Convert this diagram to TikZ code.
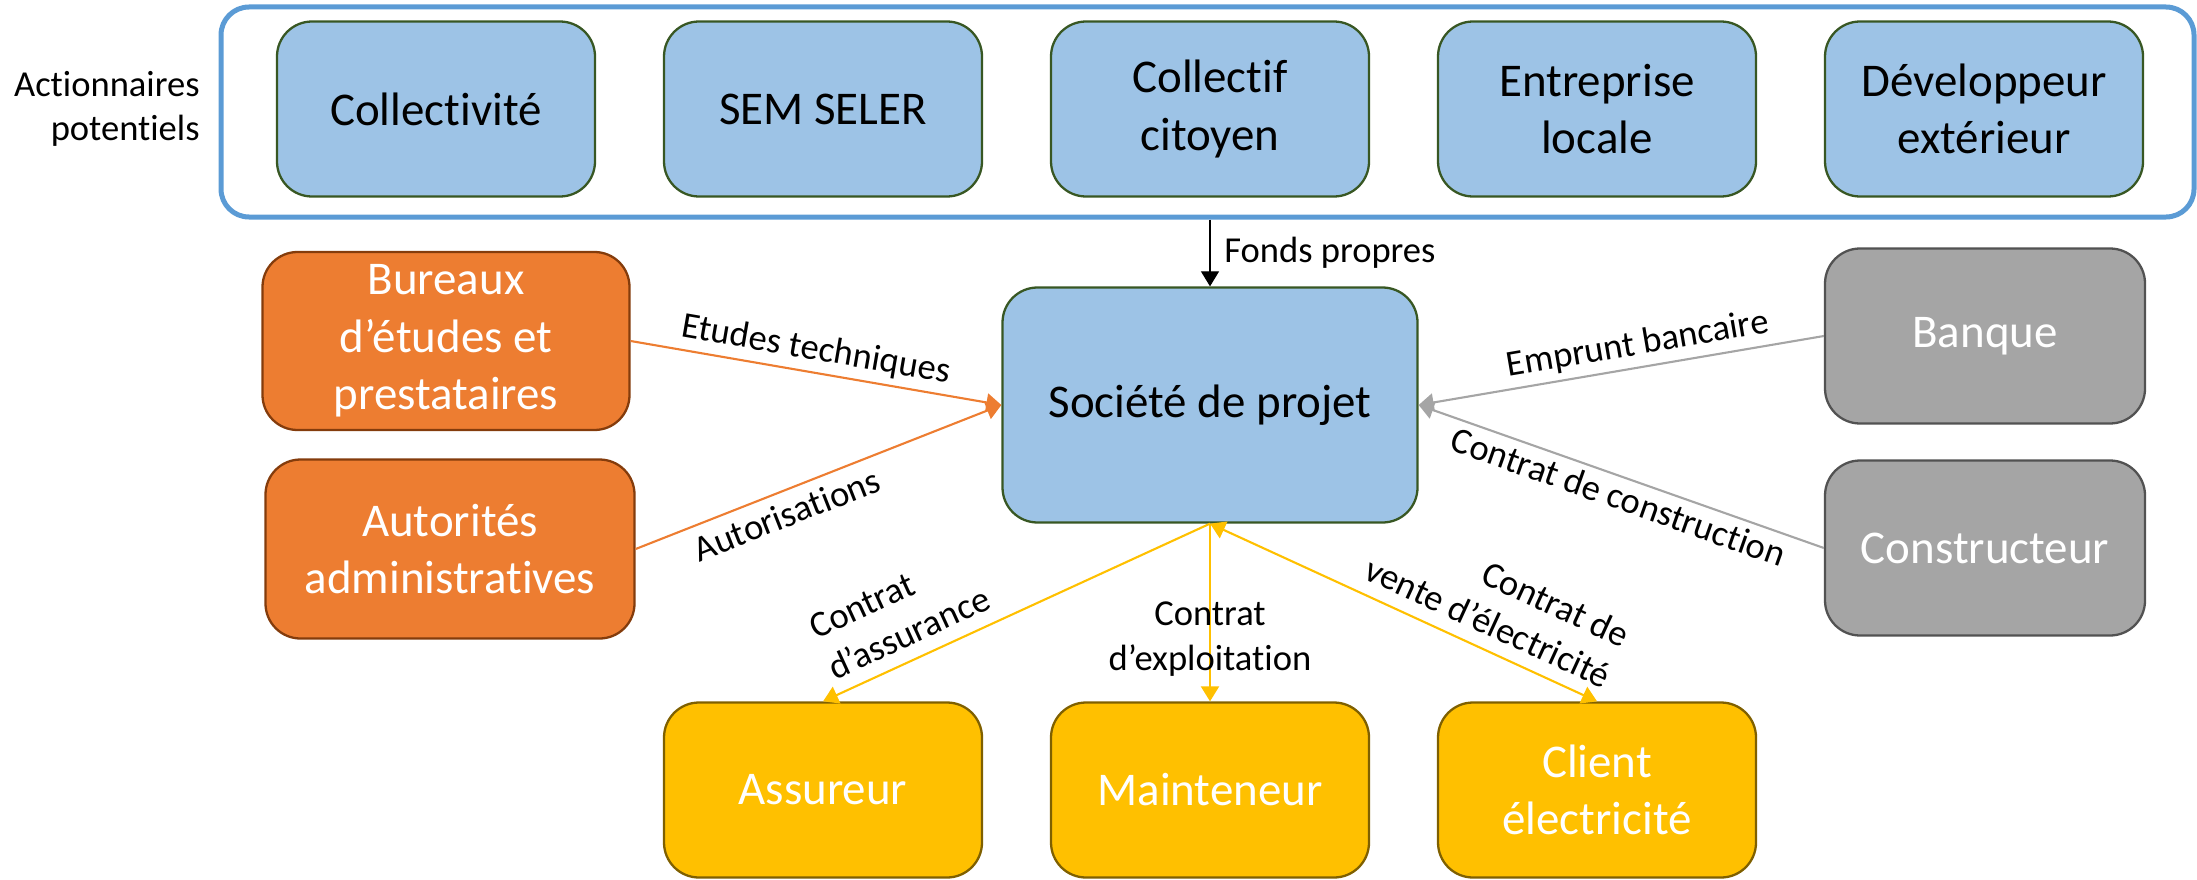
\documentclass[tikz,border=0pt]{standalone}
\usepackage{fontspec}
\setmainfont{Carlito}[Ligatures={NoCommon}]
\usetikzlibrary{arrows.meta, positioning}

\definecolor{shareblue}{HTML}{9DC3E6}
\definecolor{sharedraw}{HTML}{385723}
\definecolor{frameblue}{HTML}{5B9BD5}
\definecolor{studyorange}{HTML}{ED7D31}
\definecolor{studydraw}{HTML}{843C0C}
\definecolor{bankgrey}{HTML}{A5A5A5}
\definecolor{bankdraw}{HTML}{525252}
\definecolor{contractyellow}{HTML}{FFC000}
\definecolor{contractdraw}{HTML}{7F6000}

\begin{document}
\begin{tikzpicture}[node distance=7.74cm,on grid,>={Triangle[length=0.3cm,width=0.36cm]}]
    \tikzstyle{actor}=[shape=rectangle,rounded corners=0.7cm,line width=1.3pt,minimum width=6.36cm,minimum height=3.5cm,align=center,font=\fontsize{26.7}{32.6}\selectfont]
    \tikzstyle{share}=[actor,draw=sharedraw,fill=shareblue]
    \tikzstyle{study}=[actor,draw=studydraw,fill=studyorange,text=white]
    \tikzstyle{bank}=[actor,draw=bankdraw,fill=bankgrey,text=white]
    \tikzstyle{contract}=[actor,draw=contractdraw,fill=contractyellow,text=white]
    \tikzstyle{lbl}=[font=\fontsize{20.8}{25.4}\selectfont,text=black]

    \useasboundingbox (0,0) rectangle (43.94,-17.58);

    \node[draw=frameblue,line width=0.1cm,rounded corners=0.56cm,minimum width=39.46cm,minimum height=4.2cm] (frame) at (24.15,-2.24) {};
    \node[lbl,align=right,anchor=east,inner sep=0pt] (act) at (4.0,-2.18) {Actionnaires\\potentiels};

    \node[share, minimum width=8.3cm, minimum height=4.7cm] (soc) at (24.2,-8.1) {Société de projet};

    \node[share, above=5.92cm of soc] (citoyen) {Collectif\\citoyen};
    \node[share, left=of citoyen] (seler) {SEM SELER};
    \node[share, left=of seler] (collec) {Collectivité};
    \node[share, right=of citoyen] (locale) {Entreprise\\locale};
    \node[share, right=of locale] (dev) {Développeur\\extérieur};

    \node[study, minimum width=7.34cm, minimum height=3.56cm, above left=1.28cm and 15.28cm of soc] (bureaux) {Bureaux\\d’études et\\prestataires};
    \node[study, minimum width=7.38cm, minimum height=3.58cm, below left=2.88cm and 15.2cm of soc] (autorites) {Autorités\\administratives};

    \node[bank, minimum width=6.4cm, above right=1.38cm and 15.5cm of soc] (banque) {Banque};
    \node[bank, minimum width=6.4cm, below right=2.86cm and 15.5cm of soc] (constr) {Constructeur};

    \node[contract, below=7.7cm of soc] (maint) {Mainteneur};
    \node[contract, left=of maint] (assur) {Assureur};
    \node[contract, right=of maint] (client) {Client\\électricité};

    \path[line width=0.6pt]
    (frame.south -| soc.north) edge[->] node[lbl,right,xshift=0.16cm] {Fonds propres} (soc.north)
    ;

    \path[studyorange,line width=1.2pt]
    (bureaux.east) edge[->] node[lbl,sloped,above,pos=0.49] {Etudes techniques} (soc.west)
    (autorites.east) edge[->] node[lbl,sloped,below=2pt,pos=0.39] {Autorisations} (soc.west)
    ;

    \path[bankgrey,line width=1.2pt]
    (soc.east) edge[<-] node[lbl,sloped,above,pos=0.55] {Emprunt bancaire} (banque.west)
    (soc.east) edge[<-] node[lbl,sloped,below,pos=0.51] {Contrat de construction} (constr.west)
    ;

    \path[contractyellow,line width=1.2pt]
    (soc.south) edge[->] node[lbl,sloped,above=4pt,align=left,pos=0.75] {Contrat\\d’assurance} (assur.north)
    (soc.south) edge[->] node[lbl,align=center,pos=0.65] {Contrat\\d’exploitation} (maint.north)
    (soc.south) edge[<->] node[lbl,sloped,above=4pt,align=right,pos=0.69] {Contrat de\\vente d’électricité} (client.north)
    ;

  \end{tikzpicture}
\end{document}
